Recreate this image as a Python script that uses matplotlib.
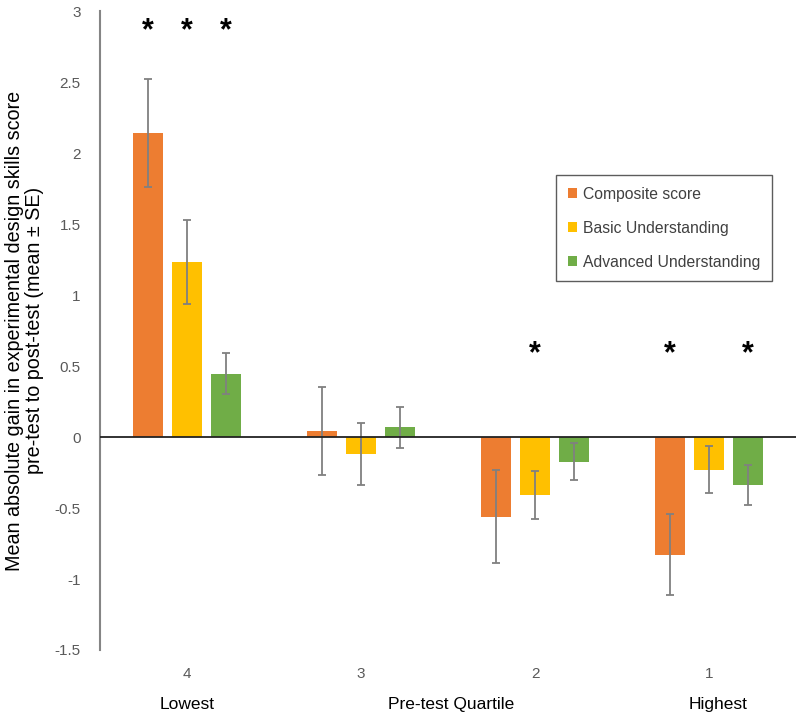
import numpy as np
import matplotlib.pyplot as plt

# pre-test quartiles (lowest to highest)
quartiles = ["4", "3", "2", "1"]
series = ["Composite score", "Basic Understanding", "Advanced Understanding"]

composite = [2.14, 0.04, -0.56, -0.83]
composite_se = [0.38, 0.31, 0.33, 0.285]
basic = [1.235, -0.12, -0.41, -0.23]
basic_se = [0.295, 0.22, 0.17, 0.165]
advanced = [0.445, 0.07, -0.175, -0.34]
advanced_se = [0.145, 0.145, 0.13, 0.14]

# significant differences: (quartile index, series index, star height)
stars = [(0, 0, 2.86), (0, 1, 2.86), (0, 2, 2.86),
         (2, 1, 0.58), (3, 0, 0.58), (3, 2, 0.58)]

colors = ["#ED7D31", "#FFC000", "#70AD47"]

plt.rcParams['font.family'] = ['Liberation Sans', 'DejaVu Sans']

fig = plt.figure(figsize=(8, 7.21), dpi=100)
ax = fig.add_axes([0.125, 0.0985, 0.87, 0.886])

x = np.arange(len(quartiles))
width = 0.17
offsets = [-0.225, 0, 0.225]
means = [composite, basic, advanced]
ses = [composite_se, basic_se, advanced_se]

for i in range(3):
    ax.bar(x + offsets[i], means[i], width, color=colors[i], label=series[i],
           yerr=ses[i], capsize=3,
           error_kw=dict(ecolor="#808080", elinewidth=1.3, capthick=1.3))

for q, s, h in stars:
    ax.text(x[q] + offsets[s], h, "*", ha="center", va="center",
            fontsize=22, fontweight="bold", color="black")

ax.axhline(0, color="#222222", linewidth=1.3, zorder=3)

ax.set_xlim(-0.5, 3.5)
ax.set_ylim(-1.5, 3)
ax.set_yticks(np.arange(-1.5, 3.01, 0.5))
ax.set_yticklabels(["-1.5", "-1", "-0.5", "0", "0.5", "1", "1.5", "2", "2.5", "3"])
ax.set_xticks(x)
ax.set_xticklabels(quartiles)
ax.tick_params(axis="both", length=0, labelcolor="#595959", labelsize=11)
ax.tick_params(axis="x", pad=12)
ax.tick_params(axis="y", pad=14)

for sp in ["top", "right", "bottom"]:
    ax.spines[sp].set_visible(False)
ax.spines["left"].set_color("#858585")
ax.spines["left"].set_linewidth(1.5)

ax.set_ylabel("Mean absolute gain in experimental design skills score\n"
              "pre-test to post-test (mean ± SE)", fontsize=14.2, linespacing=1.05)
ax.yaxis.set_label_coords(-0.081, 0.5)

# category descriptors under the tick labels
for xpos, txt in [(0, "Lowest"), (1.52, "Pre-test Quartile"), (3.05, "Highest")]:
    ax.text(xpos, -0.085, txt, transform=ax.get_xaxis_transform(),
            ha="center", va="center", fontsize=12.5, color="black")

leg = ax.legend(loc="upper left", bbox_to_anchor=(0.695, 0.757),
                bbox_transform=fig.transFigure, borderaxespad=0, fontsize=11.3,
                handlelength=0.6, handleheight=0.6, handletextpad=0.35,
                labelspacing=1.2, borderpad=0.75, fancybox=False,
                edgecolor="#333333", labelcolor="#404040")
leg.get_frame().set_linewidth(1.0)

fig.savefig("out.png", dpi=100)
